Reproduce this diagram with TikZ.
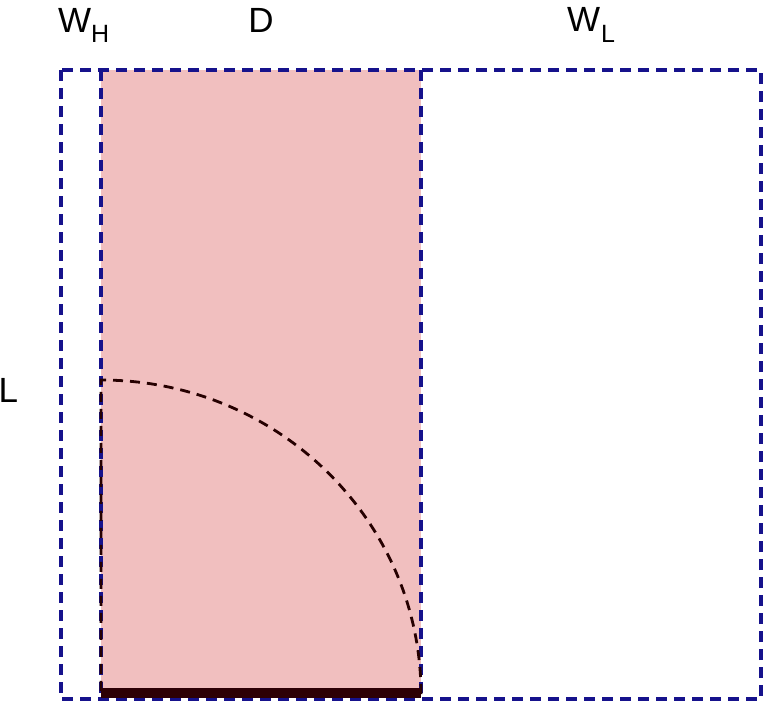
\documentclass[tikz,border=0pt]{standalone}
\usepackage{fontspec}
\setmainfont{Liberation Sans}
\definecolor{pinkfill}{RGB}{241,191,191}
\definecolor{navyline}{RGB}{22,18,140}
\definecolor{darkbar}{RGB}{45,0,5}
\begin{document}
\begin{tikzpicture}[x=1pt,y=-1pt,
  bluedash/.style={draw=navyline,line width=3.3pt,dash pattern=on 11pt off 7pt},
  arcdash/.style={draw=black!85!red,line width=2.8pt,dash pattern=on 10pt off 7pt},
  lbl/.style={inner sep=0pt,font=\fontsize{35}{40}\selectfont},
  sub/.style={inner sep=0pt,font=\fontsize{25}{28}\selectfont}]
\useasboundingbox (0,0) rectangle (763,702);
\fill[white] (0,0) rectangle (763,702);
% corners
\coordinate (otl) at (61,70);
\coordinate (obr) at (761,699);
\coordinate (dtl) at (101,70);
\coordinate (dbr) at (421,694);
\coordinate (dbl) at (101,694);
\coordinate (ltop) at (101,70);
\coordinate (lbot) at (101,699);
\coordinate (rtop) at (421,70);
\coordinate (rbot) at (421,699);
% pink region
\fill[pinkfill] (dtl) rectangle (dbr);
% dashed frame
\draw[bluedash] (otl) rectangle (obr);
\draw[bluedash] (ltop) -- (lbot);
\draw[bluedash] (rtop) -- (rbot);
% quarter arc
\draw[arcdash] (dbr) arc[start angle=0,end angle=90,x radius=320pt,y radius=314pt] -- (dbl);
% bottom bar
\fill[darkbar] (101,688) rectangle (421,698);
% labels
\node[lbl,anchor=base west] (wh) at (58,32) {W};
\node[sub,anchor=base west] (whs) at (91,42) {H};
\node[lbl,anchor=base] (d) at (261,32) {D};
\node[lbl,anchor=base west] (wl) at (567,31) {W};
\node[sub,anchor=base west] (wls) at (601,42) {L};
\node[lbl,anchor=base west] (l) at (-1.5,402) {L};
\end{tikzpicture}
\end{document}
